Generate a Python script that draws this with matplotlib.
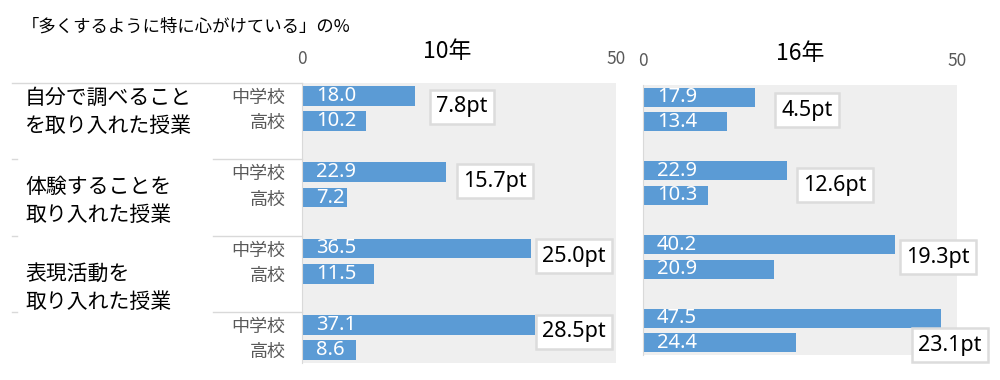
import matplotlib
matplotlib.use("Agg")
import matplotlib.pyplot as plt
from matplotlib.lines import Line2D
from matplotlib.transforms import blended_transform_factory

plt.rcParams['font.family'] = ['Noto Sans CJK JP', 'DejaVu Sans']

# data
topics = ["自分で調べること\nを取り入れた授業", "体験することを\n取り入れた授業", "表現活動を\n取り入れた授業"]
school_labels = ["中学校", "高校"]
years = ["10年", "16年"]
jhs_10 = [18.0, 22.9, 36.5, 37.1]
hs_10 = [10.2, 7.2, 11.5, 8.6]
jhs_16 = [17.9, 22.9, 40.2, 47.5]
hs_16 = [13.4, 10.3, 20.9, 24.4]

# where the gap boxes sit (x value, row slot)
box_pos_10 = [(25.5, 0.44), (30.7, 3.35), (43.3, 6.3), (43.3, 9.28)]
box_pos_16 = [(26.1, 0.52), (30.6, 3.58), (47.0, 6.52), (48.9, 10.1)]

bar_color = "#5b9bd5"
grey_txt = "#595959"
line_grey = "#d9d9d9"
num_font = ['Noto Sans', 'DejaVu Sans']

fig = plt.figure(figsize=(10, 3.8), dpi=100)
ax1 = fig.add_axes([0.302, 0.0447, 0.314, 0.7368])
ax2 = fig.add_axes([0.643, 0.0658, 0.314, 0.7105])


def draw_panel(ax, jhs, hs, box_pos, show_labels):
    ax.set_facecolor("#efefef")
    ypos_j = [3 * i for i in range(len(jhs))]
    ypos_h = [3 * i + 1 for i in range(len(hs))]
    ax.barh(ypos_j, jhs, height=0.78, color=bar_color)
    ax.barh(ypos_h, hs, height=0.78, color=bar_color)
    for y, v in zip(ypos_j + ypos_h, jhs + hs):
        ax.text(2.2, y, f"{v:.1f}", color="white", fontsize=14.5, family=num_font,
                va="center", ha="left")
    for (bx, by), j, h in zip(box_pos, jhs, hs):
        ax.text(bx, by, f"{j - h:.1f}pt", fontsize=15.5, family=num_font,
                ha="center", va="center",
                bbox=dict(boxstyle="square,pad=0.3", fc="white", ec="#dcdcdc", lw=1.8),
                clip_on=False)
    ax.set_xlim(0, 50)
    ax.set_ylim(10.5, -0.5)
    ax.xaxis.tick_top()
    ax.set_xticks([0, 50])
    ax.tick_params(axis="x", length=0, pad=11, labelsize=12.5, labelcolor=grey_txt)
    for s in ["top", "right", "bottom"]:
        ax.spines[s].set_visible(False)
    ax.spines["left"].set_color(line_grey)
    if show_labels:
        ax.set_yticks(ypos_j + ypos_h)
        ax.set_yticklabels([school_labels[0]] * len(jhs) + [school_labels[1]] * len(hs))
        ax.tick_params(axis="y", length=0, pad=12, labelsize=13, labelcolor=grey_txt)
    else:
        ax.set_yticks([])


draw_panel(ax1, jhs_10, hs_10, box_pos_10, True)
draw_panel(ax2, jhs_16, hs_16, box_pos_16, False)

# separator lines on the left side
tr = blended_transform_factory(fig.transFigure, ax1.transData)
for k, y in enumerate([-0.5, 2.5, 5.5, 8.5]):
    if k == 0:
        fig.add_artist(Line2D([0.012, 0.302], [y, y], transform=tr, color=line_grey, lw=1))
    else:
        fig.add_artist(Line2D([0.012, 0.017], [y, y], transform=tr, color=line_grey, lw=1))
        fig.add_artist(Line2D([0.213, 0.302], [y, y], transform=tr, color=line_grey, lw=1))

# topic labels
for t, yc in zip(topics, [112, 201, 288]):
    fig.text(0.025, 1 - yc / 380, t, fontsize=15, ha="left", va="center",
             linespacing=1.4)

fig.text(0.022, 1 - 27 / 380, "「多くするように特に心がけている」の%", fontsize=12.5,
         ha="left", va="center")
fig.text(0.447, 1 - 52 / 380, years[0], fontsize=16.5, ha="center", va="center")
fig.text(0.800, 1 - 53 / 380, years[1], fontsize=16.5, ha="center", va="center")

fig.savefig("out.png", dpi=100)
